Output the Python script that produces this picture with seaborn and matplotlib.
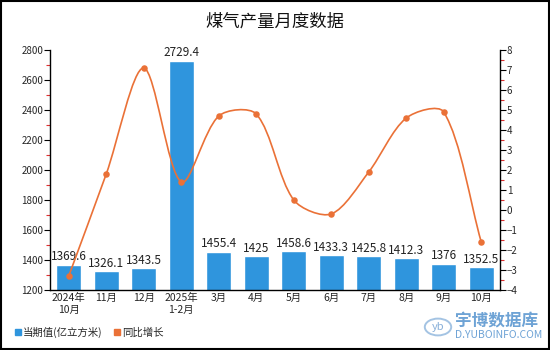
import numpy as np
import pandas as pd
import seaborn as sns
import matplotlib
matplotlib.use("Agg")
import matplotlib.pyplot as plt
from matplotlib.path import Path
from matplotlib.patches import PathPatch, Rectangle, Circle
from matplotlib.lines import Line2D
from matplotlib.ticker import MultipleLocator

months = ["2024年\n10月", "11月", "12月", "2025年\n1-2月", "3月", "4月",
          "5月", "6月", "7月", "8月", "9月", "10月"]
output = [1369.6, 1326.1, 1343.5, 2729.4, 1455.4, 1425,
          1458.6, 1433.3, 1425.8, 1412.3, 1376, 1352.5]
growth = [-3.3, 1.8, 7.1, 1.4, 4.7, 4.8, 0.5, -0.2, 1.9, 4.6, 4.9, -1.6]

bar_color = "#2F95DD"
line_color = "#EA7137"

sns.set_theme(style="white")
plt.rcParams["font.family"] = ["Noto Sans CJK SC", "DejaVu Sans"]

fig = plt.figure(figsize=(5.5, 3.5), dpi=100)
ax = fig.add_axes([50 / 550, 1 - 290 / 350, 450 / 550, 240 / 350])

df = pd.DataFrame({"month": months, "output": output, "growth": growth})
sns.barplot(data=df, x="month", y="output", color=bar_color, width=0.66,
            saturation=1, ax=ax)
ax.set_ylim(1200, 2800)
ax.set_xlim(-0.5, len(months) - 0.5)
ax.set_xlabel("")
ax.set_ylabel("")
for i, v in enumerate(output):
    ax.text(i, v + 10, f"{v:g}", ha="center", va="bottom", fontsize=8.5,
            color="#222222")

ax.yaxis.set_major_locator(MultipleLocator(200))
ax.yaxis.set_minor_locator(MultipleLocator(100))
ax.tick_params(axis="y", which="major", length=4, width=0.8, color="black",
               labelsize=7, pad=1, left=True)
ax.tick_params(axis="y", which="minor", length=3, width=0.8, color="#E03030",
               left=True)
ax.tick_params(axis="x", length=0, labelsize=7.5, pad=2)
for s in ["left", "bottom"]:
    ax.spines[s].set_color("black")
    ax.spines[s].set_linewidth(1.0)
ax.spines["top"].set_visible(False)
ax.spines["right"].set_visible(False)

ax2 = ax.twinx()
ax2.set_ylim(-4, 8)
ax2.yaxis.set_major_locator(MultipleLocator(1))
ax2.yaxis.set_minor_locator(MultipleLocator(0.5))
ax2.tick_params(axis="y", which="major", length=4, width=0.8, color="black",
                labelsize=7, pad=1, right=True)
ax2.tick_params(axis="y", which="minor", length=3, width=0.8, color="#E03030",
                right=True)
ax2.spines["right"].set_color("black")
ax2.spines["right"].set_linewidth(1.0)
for s in ["top", "left", "bottom"]:
    ax2.spines[s].set_visible(False)
ax2.grid(False)

# smooth curve through the growth points (bezier, neighbour-based control points)
xs = np.arange(len(growth), dtype=float)
ys = np.array(growth, dtype=float)
sx, sy = 37.5, 20.0
smooth = 0.3
cps_in, cps_out = [], []
for i in range(len(xs)):
    p = np.array([xs[i], ys[i]])
    prev = np.array([xs[i - 1], ys[i - 1]]) if i > 0 else p
    nxt = np.array([xs[i + 1], ys[i + 1]]) if i < len(xs) - 1 else p
    v = (nxt - prev) * smooth
    d0 = np.hypot((p[0] - prev[0]) * sx, (p[1] - prev[1]) * sy)
    d1 = np.hypot((nxt[0] - p[0]) * sx, (nxt[1] - p[1]) * sy)
    tot = d0 + d1 if d0 + d1 > 0 else 1
    cps_in.append(p - v * d0 / tot)
    cps_out.append(p + v * d1 / tot)
verts = [(xs[0], ys[0])]
codes = [Path.MOVETO]
for i in range(len(xs) - 1):
    verts += [tuple(cps_out[i]), tuple(cps_in[i + 1]), (xs[i + 1], ys[i + 1])]
    codes += [Path.CURVE4] * 3
ax2.add_patch(PathPatch(Path(verts, codes), fill=False, edgecolor=line_color,
                        linewidth=1.2, zorder=3))
sns.scatterplot(x=xs, y=ys, color=line_color, s=22, edgecolor=line_color,
                linewidth=0, ax=ax2, zorder=4, legend=False)
ax2.set_ylabel("")

fig.text(0.5, 1 - 22 / 350, "煤气产量月度数据", ha="center", va="center",
         fontsize=12.5, color="#111111")

handles = [Line2D([], [], marker="s", linestyle="none", color=bar_color,
                  markersize=5),
           Line2D([], [], marker="s", linestyle="none", color=line_color,
                  markersize=5)]
fig.legend(handles, ["当期值(亿立方米)", "同比增长"], loc="center left",
           bbox_to_anchor=(4 / 550, 1 - 332 / 350), ncol=2, frameon=False,
           fontsize=7.5, handletextpad=0.1, columnspacing=1.0,
           handlelength=0.8)

# watermark
wm = "#4A8CCB"
fig.patches.append(Circle((438 / 550, 1 - 327 / 350), 0.024, transform=fig.transFigure,
                          fill=False, edgecolor="#8DB5DC", linewidth=1.4, alpha=0.8))
fig.text(438 / 550, 1 - 327 / 350, "yb", ha="center", va="center", fontsize=8,
         color="#6A9BCF", style="italic", alpha=0.8)
fig.text(455 / 550, 1 - 321 / 350, "宇博数据库", ha="left", va="center",
         fontsize=12, color=wm, alpha=0.8, fontweight="bold")
fig.text(455 / 550, 1 - 335 / 350, "D.YUBOINFO.COM", ha="left", va="center",
         fontsize=7.5, color=wm, alpha=0.8)

fig.patches.append(Rectangle((0.001, 0.002), 0.997, 0.996, transform=fig.transFigure,
                             fill=False, edgecolor="black", linewidth=1.5))

fig.savefig("out.png", dpi=100)
